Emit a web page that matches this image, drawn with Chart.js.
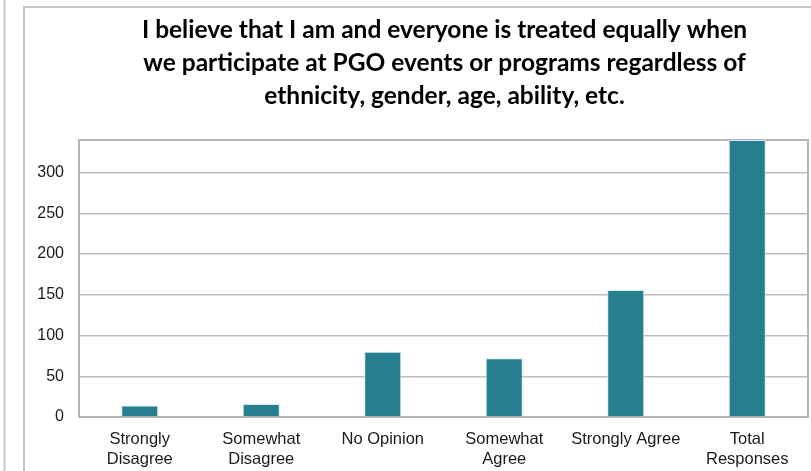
<!DOCTYPE html>
<html>
<head>
<meta charset="utf-8">
<script src="https://cdn.jsdelivr.net/npm/chart.js@4.4.1/dist/chart.umd.min.js"></script>
<style>
  html, body { margin: 0; padding: 0; background: #fff; }
  #wrap { width: 811px; height: 471px; position: relative; }
</style>
</head>
<body>
<div id="wrap"><canvas id="chart" width="811" height="471"></canvas></div>
<script>
// chart data
var titleLines = [
  "I believe that I am and everyone is treated equally when",
  "we participate at PGO events or programs regardless of",
  "ethnicity, gender, age, ability, etc."
];
var categories = [
  ["Strongly", "Disagree"],
  ["Somewhat", "Disagree"],
  "No Opinion",
  ["Somewhat", "Agree"],
  "Strongly Agree",
  ["Total", "Responses"]
];
var responses = [14, 16, 80, 72, 156, 340];
var yMax = 340;
var yStep = 50;

// frame lines round the page and the plot box, title centred on the plot
var framePlugin = {
  id: 'frames',
  beforeDraw: function(chart) {
    var ctx = chart.ctx;
    ctx.save();
    ctx.strokeStyle = '#c6c6c6';
    ctx.lineWidth = 2;
    ctx.beginPath();
    ctx.moveTo(4.5, 0); ctx.lineTo(4.5, 471);
    ctx.moveTo(24, 471); ctx.lineTo(24, 7); ctx.lineTo(811, 7);
    ctx.stroke();
    ctx.restore();
  },
  beforeDatasetsDraw: function(chart) {
    var a = chart.chartArea, ctx = chart.ctx;
    ctx.save();
    ctx.strokeStyle = '#b4b4b4';
    ctx.lineWidth = 2;
    ctx.strokeRect(a.left, a.top, a.right - a.left, a.bottom - a.top);
    ctx.restore();
  },
  afterDraw: function(chart) {
    var a = chart.chartArea, ctx = chart.ctx;
    var cx = (a.left + a.right) / 2 + 1;
    ctx.save();
    ctx.fillStyle = '#000';
    ctx.font = 'bold 24.5px Lato';
    ctx.textAlign = 'center';
    ctx.textBaseline = 'middle';
    for (var i = 0; i < titleLines.length; i++) {
      ctx.fillText(titleLines[i], cx, 30 + i * 33);
    }
    ctx.restore();
  }
};

new Chart(document.getElementById('chart').getContext('2d'), {
  type: 'bar',
  data: {
    labels: categories,
    datasets: [{
      data: responses,
      backgroundColor: '#267f8f',
      borderColor: '#d6e6ea',
      borderWidth: 1,
      barPercentage: 0.305,
      categoryPercentage: 1
    }]
  },
  options: {
    responsive: false,
    animation: false,
    layout: { padding: { left: 0, right: 3, top: 140, bottom: 0 } },
    plugins: {
      legend: { display: false },
      tooltip: { enabled: false },
      title: { display: false }
    },
    scales: {
      x: {
        grid: { display: false },
        border: { display: false },
        ticks: {
          color: '#1a1a1a',
          font: { family: 'Liberation Sans', size: 16.5, lineHeight: 1.22 },
          padding: 4,
          maxRotation: 0,
          autoSkip: false
        },
        afterFit: function(scale) { scale.height = 54; }
      },
      y: {
        min: 0,
        max: yMax,
        grid: { color: '#bdbdbd', lineWidth: 1.5, drawTicks: false },
        border: { display: false },
        ticks: {
          stepSize: yStep,
          includeBounds: false,
          color: '#1a1a1a',
          font: { family: 'Liberation Sans', size: 16 },
          padding: 15
        },
        afterFit: function(scale) { scale.width = 79; }
      }
    }
  },
  plugins: [framePlugin]
});
</script>
</body>
</html>
